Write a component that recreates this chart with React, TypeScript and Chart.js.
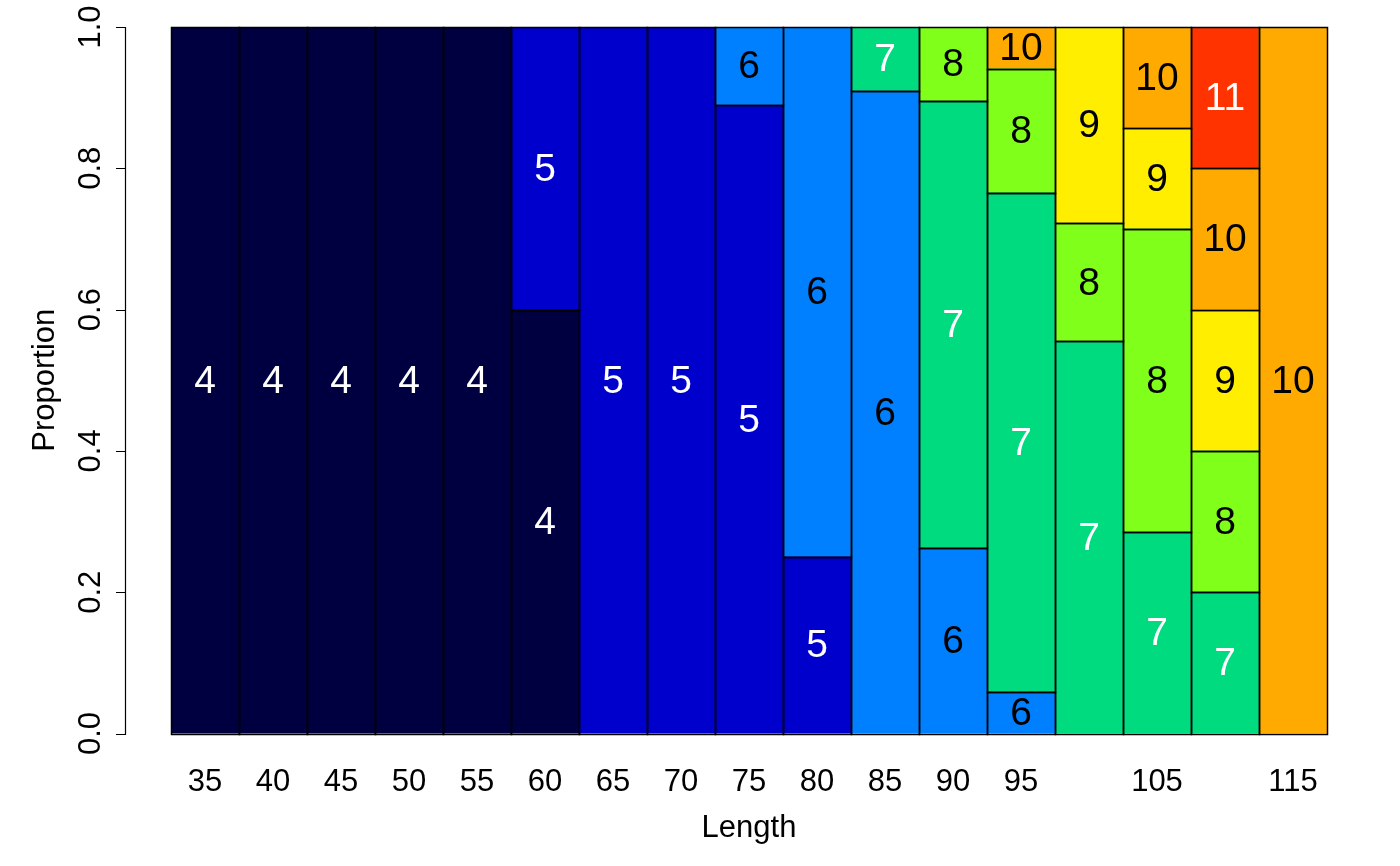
import React, { useEffect, useRef } from "react";
import { Chart, registerables } from "chart.js";

Chart.register(...registerables);

// ---- data ----
const lengths = ["35", "40", "45", "50", "55", "60", "65", "70", "75", "80", "85", "90", "95", "100", "105", "110", "115"];
const xTickLabels = ["35", "40", "45", "50", "55", "60", "65", "70", "75", "80", "85", "90", "95", "", "105", "", "115"];
const yTickValues = [0, 0.2, 0.4, 0.6, 0.8, 1.0];
const yTickLabels = ["0.0", "0.2", "0.4", "0.6", "0.8", "1.0"];
const ages = ["4", "5", "6", "7", "8", "9", "10", "11"];

const age4 = [1, 1, 1, 1, 1, 0.6, null, null, null, null, null, null, null, null, null, null, null];
const age5 = [null, null, null, null, null, 0.4, 1, 1, 0.889, 0.25, null, null, null, null, null, null, null];
const age6 = [null, null, null, null, null, null, null, null, 0.111, 0.75, 0.909, 0.263, 0.059, null, null, null, null];
const age7 = [null, null, null, null, null, null, null, null, null, null, 0.091, 0.632, 0.706, 0.555, 0.285, 0.2, null];
const age8 = [null, null, null, null, null, null, null, null, null, null, null, 0.105, 0.176, 0.167, 0.429, 0.2, null];
const age9 = [null, null, null, null, null, null, null, null, null, null, null, null, null, 0.278, 0.143, 0.2, null];
const age10 = [null, null, null, null, null, null, null, null, null, null, null, null, 0.059, null, 0.143, 0.2, 1];
const age11 = [null, null, null, null, null, null, null, null, null, null, null, null, null, null, null, 0.2, null];
const ageSeries = [age4, age5, age6, age7, age8, age9, age10, age11];

const ageColors = ["#000040", "#0000CC", "#0080FF", "#00DB80", "#80FF1A", "#FFEE00", "#FFAA00", "#FF3300"];
const ageTextColors = ["#FFFFFF", "#FFFFFF", "#000000", "#FFFFFF", "#000000", "#000000", "#000000", "#FFFFFF"];

const FONT = '"Liberation Sans", Arial, Helvetica, sans-serif';

const rPlugin = {
  id: "rStyle",
  afterDatasetsDraw(chart: any) {
    const ctx = chart.ctx;
    ctx.save();
    // outlines of every bar segment (R draws them centred on the edges)
    ctx.strokeStyle = "#000";
    ctx.lineWidth = 1.5;
    chart.data.datasets.forEach((ds: any, di: number) => {
      const meta = chart.getDatasetMeta(di);
      meta.data.forEach((el: any, i: number) => {
        if (ds.data[i] == null) return;
        const l = Math.round(el.x - el.width / 2) + 0.5;
        const r = Math.round(el.x + el.width / 2) + 0.5;
        const t = Math.round(Math.min(el.y, el.base)) + 0.5;
        const b = Math.round(Math.max(el.y, el.base)) + 0.5;
        ctx.strokeRect(l, t, r - l, b - t);
      });
    });
    // segment labels
    ctx.font = `39px ${FONT}`;
    ctx.textAlign = "center";
    ctx.textBaseline = "middle";
    chart.data.datasets.forEach((ds: any, di: number) => {
      const meta = chart.getDatasetMeta(di);
      meta.data.forEach((el: any, i: number) => {
        if (ds.data[i] == null) return;
        const cy = (el.y + el.base) / 2;
        ctx.fillStyle = ageTextColors[di];
        ctx.fillText(ages[di], el.x, cy + 1.5);
      });
    });
    ctx.restore();
  },
  afterDraw(chart: any) {
    const ctx = chart.ctx;
    const area = chart.chartArea;
    const xs = chart.scales.x;
    const ys = chart.scales.y;
    const axisX = Math.round(area.left - 46);
    const y0 = ys.getPixelForValue(0);
    const y1 = ys.getPixelForValue(1);
    ctx.save();
    ctx.strokeStyle = "#000";
    ctx.lineWidth = 1.2;
    ctx.beginPath();
    ctx.moveTo(axisX + 0.5, Math.round(y0) + 1);
    ctx.lineTo(axisX + 0.5, Math.round(y1));
    yTickValues.forEach((v) => {
      const y = Math.round(ys.getPixelForValue(v)) + 0.5;
      ctx.moveTo(axisX - 9, y);
      ctx.lineTo(axisX + 1, y);
    });
    ctx.stroke();

    ctx.fillStyle = "#000";
    ctx.font = `31px ${FONT}`;
    ctx.textAlign = "center";
    ctx.textBaseline = "alphabetic";
    yTickValues.forEach((v, i) => {
      const y = ys.getPixelForValue(v);
      ctx.save();
      ctx.translate(axisX - 25, y);
      ctx.rotate(-Math.PI / 2);
      ctx.fillText(yTickLabels[i], 0, 0);
      ctx.restore();
    });

    xTickLabels.forEach((lab, i) => {
      if (!lab) return;
      const x = xs.getPixelForValue(i);
      ctx.fillText(lab, x, y0 + 57.5);
    });

    const xMid = (xs.getPixelForValue(0) + xs.getPixelForValue(lengths.length - 1)) / 2;
    ctx.fillText("Length", xMid, y0 + 103.5);

    ctx.save();
    ctx.translate(axisX - 71, (y0 + y1) / 2);
    ctx.rotate(-Math.PI / 2);
    ctx.fillText("Proportion", 0, 0);
    ctx.restore();
    ctx.restore();
  },
};

export default function App() {
  const canvasRef = useRef<HTMLCanvasElement | null>(null);

  useEffect(() => {
    document.body.style.margin = "0";
    const canvas = canvasRef.current;
    if (!canvas) return;
    const chart = new Chart(canvas, {
      type: "bar",
      data: {
        labels: lengths,
        datasets: ageSeries.map((series, di) => ({
          label: ages[di],
          data: series,
          backgroundColor: ageColors[di],
          borderWidth: 0,
          inflateAmount: 0.5,
          barPercentage: 1,
          categoryPercentage: 1,
          stack: "s",
        })),
      },
      options: {
        responsive: false,
        animation: false,
        devicePixelRatio: 1,
        layout: { padding: { left: 171, right: 73, top: 27, bottom: 132.5 } },
        plugins: {
          legend: { display: false },
          tooltip: { enabled: false },
          title: { display: false },
        },
        scales: {
          x: { type: "category", display: false, stacked: true, offset: true },
          y: { type: "linear", display: false, stacked: true, min: 0, max: 1 },
        },
      },
      plugins: [rPlugin],
    });
    return () => chart.destroy();
  }, []);

  return (
    <div style={{ width: 1400, height: 866, background: "#fff" }}>
      <canvas ref={canvasRef} width={1400} height={866} style={{ display: "block" }} />
    </div>
  );
}
